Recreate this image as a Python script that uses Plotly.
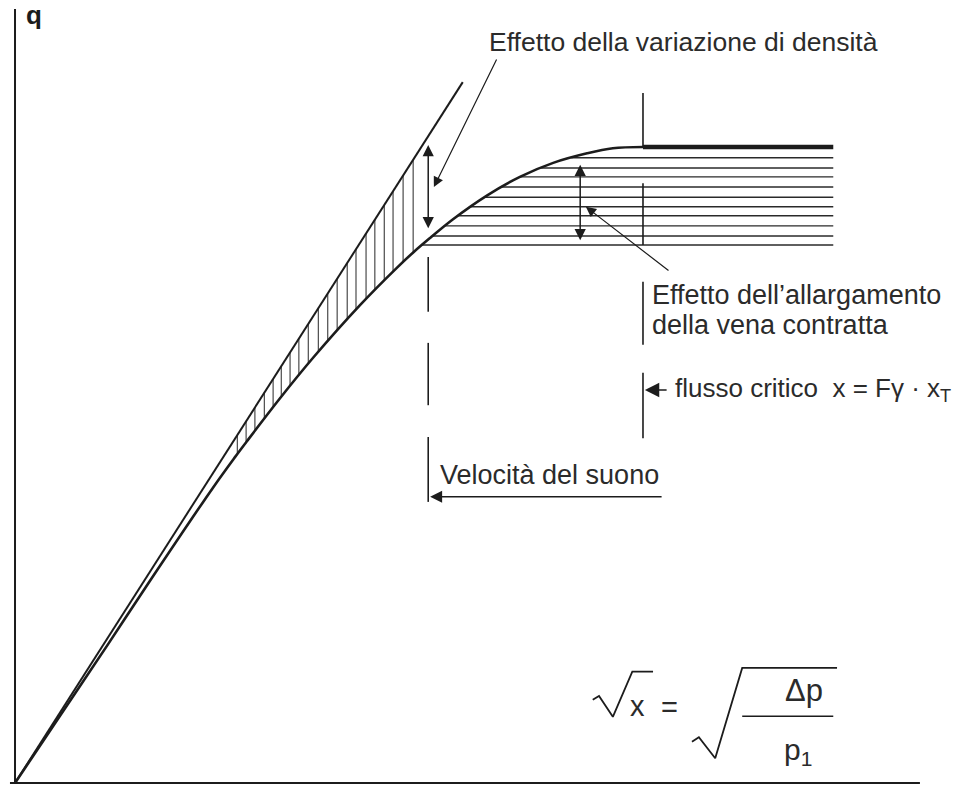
import numpy as np
import plotly.graph_objects as go

# Diagram units: horizontal = sqrt(x) relative to the choked-flow point (s = 1),
# vertical = q relative to the maximum (choked) flow q_max (q = 1).

# Real flow curve (density change included), rising to the choked plateau
curve_s = [0.0, 0.072, 0.148, 0.215, 0.315, 0.350, 0.369, 0.422, 0.475, 0.549,
           0.608, 0.635, 0.661, 0.697, 0.752, 0.804, 0.857, 0.911, 0.952, 1.0, 1.303]
curve_q = [0.0, 0.106, 0.218, 0.318, 0.464, 0.512, 0.537, 0.605, 0.669, 0.751,
           0.810, 0.835, 0.857, 0.886, 0.924, 0.953, 0.975, 0.990, 0.998, 1.0, 1.0]

# Constant-density (incompressible) straight line
line_s = [0.0, 0.713]
line_q = [0.0, 1.102]

# Characteristic abscissae
s_sonic = 0.658   # speed of sound reached in the vena contracta
s_crit = 1.0      # critical flow x = Fγ·xT

# Vertical hatching: density-change band between the straight line and the curve
hatch_v_s = [0.354, 0.368, 0.382, 0.397, 0.411, 0.424, 0.438, 0.452, 0.467, 0.483,
             0.498, 0.513, 0.529, 0.543, 0.559, 0.573, 0.588, 0.602, 0.618, 0.634]

# Horizontal hatching: vena contracta widening region under the plateau
hatch_h_q = [0.983, 0.967, 0.953, 0.937, 0.921, 0.906, 0.892, 0.876, 0.860, 0.846]

# Broken vertical markers (q extents of each stroke)
sonic_marks = [(0.827, 0.741), (0.692, 0.594), (0.544, 0.442)]
crit_marks = [(1.085, 1.0), (0.943, 0.846), (0.788, 0.689), (0.645, 0.542)]

INK = "#1c1c1c"
TEXT_INK = "#2b2b2b"
FONT = "Liberation Sans"

fig = go.Figure()

def seg_trace(xs, ys, width, color=INK, shape="linear"):
    fig.add_trace(go.Scatter(x=xs, y=ys, mode="lines", hoverinfo="skip",
                             line=dict(color=color, width=width, shape=shape),
                             showlegend=False))

# Axes
seg_trace([0, 0], [0, 1.217], 2)
seg_trace([-0.008, 1.441], [0, 0], 2)

# Vertical hatching
curve_s_up = np.array(curve_s[:-1])
curve_q_up = np.array(curve_q[:-1])
hx, hy = [], []
for s in hatch_v_s:
    lo = float(np.interp(s, curve_s, curve_q))
    hi = float(np.interp(s, line_s, line_q))
    hx += [s, s, None]
    hy += [lo, hi, None]
seg_trace(hx, hy, 1.1, "#3a3a3a")

# Horizontal hatching
gx, gy = [], []
for q in hatch_h_q:
    left = float(np.interp(q, curve_q_up, curve_s_up))
    gx += [left, curve_s[-1], None]
    gy += [q, q, None]
seg_trace(gx, gy, 1.4, "#2a2a2a")

# Straight line and real curve
seg_trace(line_s, line_q, 2)
seg_trace(curve_s[:-1], curve_q[:-1], 2.6, shape="spline")
seg_trace([s_crit, curve_s[-1]], [1.0, 1.0], 4.5)

# Broken vertical markers
mx, my = [], []
for a, b in sonic_marks:
    mx += [s_sonic, s_sonic, None]
    my += [a, b, None]
for a, b in crit_marks:
    mx += [s_crit, s_crit, None]
    my += [a, b, None]
seg_trace(mx, my, 1.6)

# Formula: sqrt(x) = sqrt(Δp / p1), radicals drawn as strokes
seg_trace([0.920, 0.930, 0.952, 0.983, 1.016], [0.131, 0.137, 0.104, 0.175, 0.175], 1.8)
seg_trace([1.078, 1.089, 1.115, 1.158, 1.309], [0.065, 0.072, 0.039, 0.181, 0.181], 1.8)
seg_trace([1.158, 1.303], [0.105, 0.105], 1.6)

annotations = []

def label(x, y, text, size=27, xanchor="left", bold=False):
    annotations.append(dict(x=x, y=y, xref="x", yref="y", text=f"<b>{text}</b>" if bold else text,
                            showarrow=False, xanchor=xanchor, yanchor="middle",
                            font=dict(family=FONT, size=size, color=INK if bold else TEXT_INK)))

def arrow(x, y, ax, ay, both=False, head=2, size=1.0, width=1.2):
    annotations.append(dict(x=x, y=y, ax=ax, ay=ay, xref="x", yref="y", axref="x", ayref="y",
                            text="", showarrow=True, arrowhead=head, startarrowhead=head,
                            arrowside="end+start" if both else "end",
                            arrowsize=size, startarrowsize=size, arrowwidth=width,
                            arrowcolor=INK))

label(0.030, 1.207, "q", size=26, xanchor="center", bold=True)
label(0.752, 1.165, "Effetto della variazione di densità", size=26.5)
label(1.011, 0.767, "Effetto dell’allargamento")
label(1.011, 0.720, "della vena contratta")
label(1.048, 0.618, "flusso critico  x = Fγ · x<sub>T</sub>", size=26)
label(0.674, 0.484, "Velocità del suono")

# Gap arrows and leaders
arrow(s_sonic, 1.003, s_sonic, 0.870, both=True, size=1.5, width=1.5)
arrow(0.667, 0.937, 0.768, 1.140, size=1.7, width=1.2)
arrow(0.900, 0.972, 0.900, 0.851, both=True, size=1.5, width=1.5)
arrow(0.909, 0.906, 1.043, 0.804, size=1.7, width=1.2)
arrow(1.003, 0.618, 1.040, 0.618, size=1.8, width=1.6)
arrow(0.661, 0.450, 1.032, 0.450, size=1.6, width=1.5)

label(0.992, 0.121, "x", size=29, xanchor="center")
label(1.043, 0.120, "=", size=29, xanchor="center")
label(1.257, 0.145, "Δp", size=31, xanchor="center")
label(1.247, 0.050, "p<sub>1</sub>", size=30, xanchor="center")

fig.update_layout(
    width=961, height=786,
    margin=dict(l=0, r=0, t=0, b=0),
    paper_bgcolor="white", plot_bgcolor="white",
    xaxis=dict(range=[-0.0239, 1.5064], visible=False, fixedrange=True),
    yaxis=dict(range=[-0.0047, 1.2311], visible=False, fixedrange=True),
    annotations=annotations,
    showlegend=False,
)

fig.write_html("out.html")
